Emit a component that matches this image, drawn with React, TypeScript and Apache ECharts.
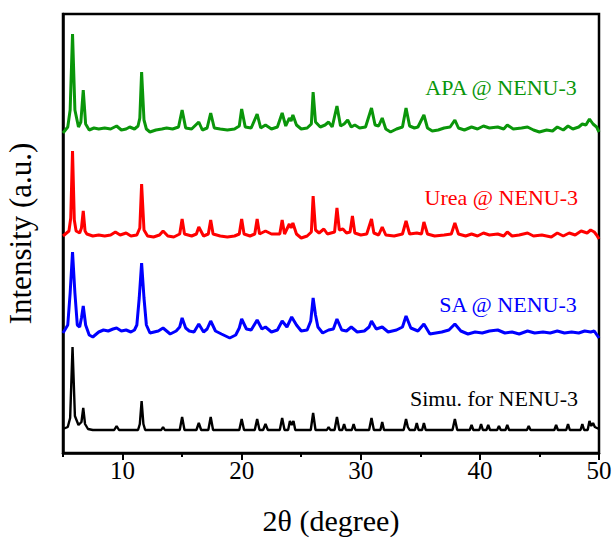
import React, { useEffect, useRef } from "react";
import * as echarts from "echarts";

// 2θ (degree) vs intensity (a.u.), each pattern, baseline ~0
const apaData: [number, number][] = [
  [5, -3], [5.4, 3], [5.6, 20], [5.8, 96], [6.0, 20], [6.3, 3], [6.5, 8], [6.7, 40], [6.9, 6], [7.2, 0],
  [7.6, 2], [8.0, 1], [8.5, 2], [9.0, 1], [9.5, 4], [9.9, 0], [10.3, 1], [10.6, 3], [11.0, 1], [11.3, 4],
  [11.45, 12], [11.6, 58], [11.8, 10], [12.0, 1], [12.3, -2], [12.8, 0], [13.3, 1], [13.7, 2], [14.2, 1], [14.7, 3],
  [15.0, 20], [15.3, 2], [15.8, 1], [16.4, 8], [16.7, 0], [17.1, 2], [17.4, 17], [17.7, 2], [18.2, 1], [18.8, 0],
  [19.4, 1], [19.8, 4], [20.0, 21], [20.3, 3], [20.8, 2], [21.3, 16], [21.6, 2], [22.0, 5], [22.5, 1], [23.0, 3],
  [23.4, 17], [23.7, 4], [24.0, 12], [24.15, 9], [24.3, 15], [24.6, 5], [25.0, 1], [25.5, 2], [25.85, 6], [26.0, 38],
  [26.2, 8], [26.6, 3], [27.0, 5], [27.3, 8], [27.6, 3], [28.0, 24], [28.3, 4], [28.6, 6], [28.9, 10], [29.2, 3],
  [29.5, 5], [29.9, 2], [30.4, 3], [30.9, 22], [31.2, 5], [31.5, 4], [31.8, 12], [32.1, 1], [32.5, -2], [33.0, 1],
  [33.5, 3], [33.8, 22], [34.1, 4], [34.5, 2], [34.8, 3], [35.3, 15], [35.6, 2], [36.0, -1], [36.5, 0], [37.0, 2],
  [37.5, 3], [37.9, 10], [38.2, 2], [38.7, 0], [39.3, 3], [39.8, 1], [40.3, 4], [40.8, 2], [41.5, 3], [42.0, 1],
  [42.3, 5], [42.8, 1], [43.5, 2], [44.0, 3], [44.5, 0], [45.0, -2], [45.6, 0], [46.1, -1], [46.5, 3], [47.0, 0],
  [47.4, 4], [47.8, 1], [48.3, 3], [48.6, 6], [48.9, 5], [49.2, 11], [49.5, 6], [49.8, 3], [50, -2],
];

const ureaData: [number, number][] = [
  [5, 0], [5.5, 5], [5.65, 18], [5.8, 85], [5.95, 16], [6.1, 5], [6.4, 3], [6.55, 8], [6.7, 25], [6.85, 5],
  [7.0, 2], [7.5, 0], [8.0, 1], [8.5, 0], [9.0, 1], [9.4, 4], [9.8, 1], [10.3, 3], [10.7, 0], [11.2, 1],
  [11.45, 8], [11.6, 52], [11.8, 6], [12.1, 0], [12.6, -1], [13.1, 1], [13.4, 5], [13.8, 0], [14.3, -1], [14.8, 2],
  [15.0, 17], [15.2, 2], [15.8, 0], [16.2, 2], [16.4, 9], [16.8, 0], [17.2, 2], [17.4, 16], [17.6, 2], [18.2, 0],
  [18.8, -1], [19.4, 0], [19.8, 2], [20.0, 17], [20.2, 2], [20.7, 0], [21.1, 2], [21.3, 17], [21.5, 2], [22.0, 5],
  [22.5, 2], [23.2, 2], [23.4, 16], [23.6, 2], [24.0, 12], [24.15, 8], [24.3, 13], [24.6, 2], [25.0, -2], [25.5, 0],
  [25.85, 4], [26.0, 40], [26.2, 6], [26.5, 3], [26.9, 7], [27.2, 2], [27.8, 4], [28.0, 28], [28.2, 6], [28.5, 7],
  [28.8, 3], [29.1, 4], [29.3, 20], [29.5, 3], [30.0, 1], [30.5, 2], [30.9, 17], [31.1, 3], [31.5, 1], [31.8, 9],
  [32.1, 1], [32.8, 0], [33.5, 2], [33.8, 15], [34.1, 2], [34.7, 3], [35.1, 2], [35.3, 14], [35.6, 2], [36.2, 0],
  [37.0, 1], [37.6, 2], [37.9, 13], [38.2, 2], [38.8, 0], [39.3, 2], [39.8, 0], [40.3, 3], [40.8, 1], [41.5, 2],
  [42.0, 0], [42.3, 4], [42.7, 0], [43.3, 1], [44.0, 3], [44.5, 0], [45.2, 1], [46.0, -1], [46.5, 3], [47.0, 0],
  [47.5, 3], [48.0, 1], [48.5, 5], [49.0, 3], [49.3, 6], [49.6, 4], [49.8, 1], [50, -3],
];

const saData: [number, number][] = [
  [5, 0], [5.4, 8], [5.6, 40], [5.8, 81], [6.0, 40], [6.2, 8], [6.4, 6], [6.55, 15], [6.7, 27], [6.9, 8],
  [7.2, -2], [7.5, -4], [8.0, 1], [8.4, 3], [8.8, 2], [9.2, 4], [9.5, 5], [9.9, 2], [10.3, 3], [10.7, 1],
  [11.0, 3], [11.2, 8], [11.4, 35], [11.6, 70], [11.8, 35], [12.0, 8], [12.3, 0], [13.0, 2], [13.4, 5], [14.0, -1],
  [14.5, 2], [14.8, 6], [15.0, 15], [15.3, 5], [15.6, 2], [16.0, 1], [16.4, 9], [16.8, 1], [17.1, 4], [17.4, 12],
  [17.8, 2], [18.3, -1], [19.0, -5], [19.5, -2], [19.8, 5], [20.0, 14], [20.4, 4], [20.8, 3], [21.3, 13], [21.7, 4],
  [22.0, 6], [22.5, 1], [23.0, 3], [23.4, 12], [23.8, 6], [24.2, 16], [24.6, 8], [25.0, 2], [25.5, 3], [25.8, 12],
  [26.0, 35], [26.2, 18], [26.4, 6], [26.8, 0], [27.3, 3], [27.7, 4], [28.0, 14], [28.4, 3], [28.8, 2], [29.2, 6],
  [29.7, 1], [30.3, 2], [30.7, 6], [30.9, 12], [31.3, 4], [31.8, 6], [32.3, 1], [33.0, 3], [33.5, 6], [33.8, 17],
  [34.2, 5], [34.8, 2], [35.3, 9], [35.8, -1], [36.3, 0], [36.8, 1], [37.4, 3], [37.9, 9], [38.4, 2], [39.0, -1],
  [39.6, 1], [40.2, 0], [40.8, 2], [41.5, 3], [42.1, 0], [42.7, 1], [43.3, -1], [44.0, 2], [44.6, 0], [45.3, 1],
  [45.9, 0], [46.5, 2], [47.1, 0], [47.7, 1], [48.3, 0], [48.8, 2], [49.3, 1], [49.6, 2], [50, -5],
];

const simuData: [number, number][] = [
  [5, 1], [5.4, 3], [5.6, 12], [5.8, 83], [6.0, 14], [6.3, 5], [6.55, 8], [6.7, 22], [6.85, 6], [7.1, 1],
  [7.5, 0], [9.3, 0], [9.5, 4], [9.7, 0], [11.3, 0], [11.45, 6], [11.6, 29], [11.75, 6], [11.9, 0], [13.25, 0],
  [13.4, 3], [13.55, 0], [14.8, 0], [15.0, 13], [15.2, 0], [16.2, 0], [16.4, 7], [16.6, 0], [17.2, 0], [17.4, 13],
  [17.6, 0], [19.8, 0], [20.0, 11], [20.2, 0], [21.1, 0], [21.3, 11], [21.5, 0], [21.8, 0], [22.0, 6], [22.2, 0],
  [23.2, 0], [23.4, 12], [23.6, 0], [23.9, 0], [24.05, 9], [24.2, 5], [24.35, 9], [24.5, 0], [25.8, 0], [26.0, 17],
  [26.2, 0], [27.15, 0], [27.3, 3], [27.45, 0], [27.8, 0], [28.0, 13], [28.2, 0], [28.45, 0], [28.6, 6], [28.75, 0],
  [29.25, 0], [29.4, 6], [29.55, 0], [30.7, 0], [30.9, 12], [31.1, 0], [31.65, 0], [31.8, 8], [31.95, 0], [33.6, 0],
  [33.8, 11], [33.95, 3], [34.1, 0], [34.55, 0], [34.7, 7], [34.85, 0], [35.15, 0], [35.3, 7], [35.45, 0], [37.7, 0],
  [37.9, 11], [38.1, 0], [39.15, 0], [39.3, 5], [39.45, 0], [39.95, 0], [40.1, 6], [40.25, 0], [40.55, 0], [40.7, 5],
  [40.85, 0], [41.45, 0], [41.6, 4], [41.75, 0], [42.15, 0], [42.3, 5], [42.45, 0], [43.95, 0], [44.1, 4], [44.25, 0],
  [46.25, 0], [46.4, 5], [46.55, 0], [47.25, 0], [47.4, 6], [47.55, 0], [48.45, 0], [48.6, 6], [48.75, 0], [49.05, 0],
  [49.2, 9], [49.35, 4], [49.5, 7], [49.65, 3], [50, 1],
];

// vertical stacking offsets (a.u.)
const seriesNames = ["APA @ NENU-3", "Urea @ NENU-3", "SA @ NENU-3", "Simu. for NENU-3"];
const seriesOffsets = [323, 217, 120, 23];
const seriesColors = ["#0a960a", "#ff0000", "#0000ff", "#000000"];
const seriesData = [apaData, ureaData, saData, simuData];
const labelY = [88, 198, 305, 399];

const majorTicks = [10, 20, 30, 40, 50];
const minorTicks = [5, 15, 25, 35, 45];

const FONT = "'Liberation Serif', 'Times New Roman', serif";

export default function App() {
  const ref = useRef<HTMLDivElement>(null);
  useEffect(() => {
    if (!ref.current) return;
    const chart = echarts.init(ref.current, undefined, { renderer: "svg" });
    const option: any = {
      animation: false,
      backgroundColor: "#ffffff",
      grid: {
        left: 63,
        right: 17,
        top: 14,
        bottom: 88,
        show: true,
        borderColor: "#000",
        borderWidth: 2.5,
        backgroundColor: "transparent",
        containLabel: false,
        outerBoundsMode: "none",
      },
      xAxis: [
        {
          type: "value",
          min: 5,
          max: 50,
          position: "bottom",
          name: "2θ (degree)",
          nameLocation: "middle",
          nameGap: 52,
          nameTextStyle: { fontFamily: FONT, fontSize: 30, color: "#000" },
          axisLine: { show: true, lineStyle: { color: "#000", width: 2.5 } },
          axisTick: { show: true, inside: false, length: 7, customValues: majorTicks, lineStyle: { color: "#000", width: 2 } },
          axisLabel: { show: true, customValues: majorTicks, margin: 5, fontFamily: FONT, fontSize: 25, color: "#000" },
          splitLine: { show: false },
        },
        {
          type: "value",
          min: 5,
          max: 50,
          position: "bottom",
          axisLine: { show: false },
          axisTick: { show: true, inside: false, length: 4, customValues: minorTicks, lineStyle: { color: "#000", width: 2 } },
          axisLabel: { show: false },
          splitLine: { show: false },
        },
      ],
      yAxis: {
        type: "value",
        min: 0,
        max: 439,
        name: "Intensity (a.u.)",
        nameLocation: "middle",
        nameGap: 27,
        nameRotate: 90,
        nameTextStyle: { fontFamily: FONT, fontSize: 31, color: "#000" },
        axisLine: { show: true, lineStyle: { color: "#000", width: 2.5 } },
        axisTick: { show: false },
        axisLabel: { show: false },
        splitLine: { show: false },
      },
      series: seriesData.map((d, i) => ({
        type: "line",
        name: seriesNames[i],
        xAxisIndex: 0,
        data: d.map(([x, y]) => [x, y + seriesOffsets[i]]),
        showSymbol: false,
        symbol: "none",
        lineStyle: { color: seriesColors[i], width: i === 3 ? 2.4 : 3 },
        z: 3,
      })),
      graphic: seriesNames.map((n, i) => ({
        type: "text",
        right: 38,
        top: labelY[i] - 12,
        style: {
          text: n,
          fontFamily: FONT,
          fontSize: 22,
          fill: seriesColors[i],
        },
      })),
    };
    chart.setOption(option);
    return () => chart.dispose();
  }, []);
  return (
    <div
      ref={ref}
      style={{ position: "absolute", left: 0, top: 0, width: 616, height: 541 }}
    />
  );
}
